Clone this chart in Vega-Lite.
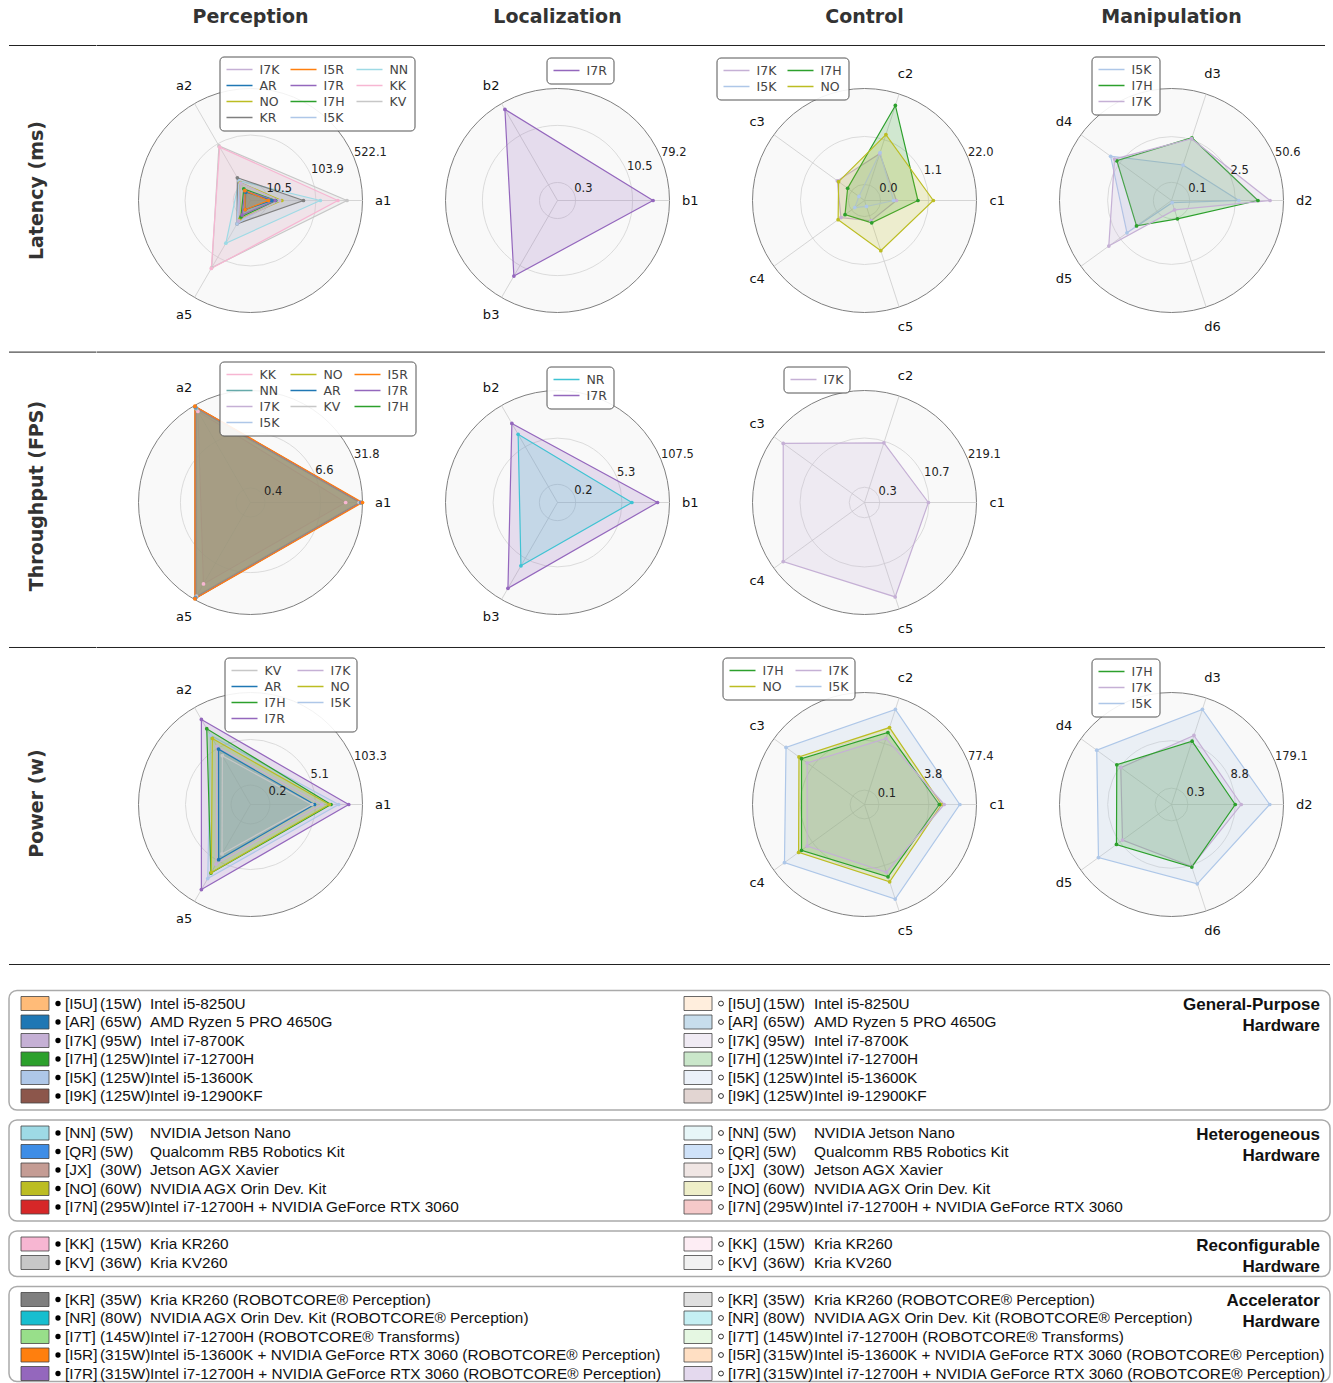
{
"$schema":"https://vega.github.io/schema/vega-lite/v6.json",
"background":"white",
"padding":{"left":8,"top":7.5,"right":0,"bottom":0},
"config":{"view":{"stroke":null},"legend":{"title":null,"orient":"none","labelFont":"DejaVu Sans","labelFontSize":12.5,"labelColor":"#444","symbolType":"stroke","symbolSize":676,"symbolStrokeWidth":1.5,"padding":6,"strokeColor":"#555","fillColor":"rgba(255,255,255,0.9)","cornerRadius":4,"rowPadding":2,"columnPadding":10,"clipHeight":14,"labelOffset":6}},
"datasets":{
"panels":[{"p":"lat-per","c":14,"vmax":522.1},{"p":"lat-loc","c":0.18,"vmax":79.2},{"p":"lat-con","c":0.021,"vmax":22.0},{"p":"lat-man","c":0.048,"vmax":50.6},{"p":"thr-per","c":0.58,"vmax":31.8},{"p":"thr-loc","c":0.094,"vmax":107.5},{"p":"thr-con","c":0.185,"vmax":219.1},{"p":"pow-per","c":0.082,"vmax":103.3},{"p":"pow-con","c":0.068,"vmax":77.4},{"p":"pow-man","c":0.17,"vmax":179.1}],
"axes":[{"a":"a1","g":"a","k":0,"n":3},{"a":"a2","g":"a","k":1,"n":3},{"a":"a5","g":"a","k":2,"n":3},{"a":"b1","g":"b","k":0,"n":3},{"a":"b2","g":"b","k":1,"n":3},{"a":"b3","g":"b","k":2,"n":3},{"a":"c1","g":"c","k":0,"n":5},{"a":"c2","g":"c","k":1,"n":5},{"a":"c3","g":"c","k":2,"n":5},{"a":"c4","g":"c","k":3,"n":5},{"a":"c5","g":"c","k":4,"n":5},{"a":"d2","g":"d","k":0,"n":5},{"a":"d3","g":"d","k":1,"n":5},{"a":"d4","g":"d","k":2,"n":5},{"a":"d5","g":"d","k":3,"n":5},{"a":"d6","g":"d","k":4,"n":5}],
"rings":[{"p":"lat-per","v":10.5,"label":"10.5"},{"p":"lat-per","v":103.9,"label":"103.9"},{"p":"lat-per","v":522.1,"label":"522.1"},
{"p":"lat-loc","v":0.3,"label":"0.3"},{"p":"lat-loc","v":10.5,"label":"10.5"},{"p":"lat-loc","v":79.2,"label":"79.2"},
{"p":"lat-con","v":0.036,"label":"0.0"},{"p":"lat-con","v":1.1,"label":"1.1"},{"p":"lat-con","v":22.0,"label":"22.0"},
{"p":"lat-man","v":0.1,"label":"0.1"},{"p":"lat-man","v":2.5,"label":"2.5"},{"p":"lat-man","v":50.6,"label":"50.6"},
{"p":"thr-per","v":0.4,"label":"0.4"},{"p":"thr-per","v":6.6,"label":"6.6"},{"p":"thr-per","v":31.8,"label":"31.8"},
{"p":"thr-loc","v":0.2,"label":"0.2"},{"p":"thr-loc","v":5.3,"label":"5.3"},{"p":"thr-loc","v":107.5,"label":"107.5"},
{"p":"thr-con","v":0.3,"label":"0.3"},{"p":"thr-con","v":10.7,"label":"10.7"},{"p":"thr-con","v":219.1,"label":"219.1"},
{"p":"pow-per","v":0.2,"label":"0.2"},{"p":"pow-per","v":5.1,"label":"5.1"},{"p":"pow-per","v":103.3,"label":"103.3"},
{"p":"pow-con","v":0.1,"label":"0.1"},{"p":"pow-con","v":3.8,"label":"3.8"},{"p":"pow-con","v":77.4,"label":"77.4"},
{"p":"pow-man","v":0.3,"label":"0.3"},{"p":"pow-man","v":8.8,"label":"8.8"},{"p":"pow-man","v":179.1,"label":"179.1"}],
"pts":[
{"p":"lat-per","s":"KV","a":"a1","v":310},{"p":"lat-per","s":"KV","a":"a2","v":95},{"p":"lat-per","s":"KV","a":"a5","v":160},
{"p":"lat-per","s":"KK","a":"a1","v":227},{"p":"lat-per","s":"KK","a":"a2","v":90},{"p":"lat-per","s":"KK","a":"a5","v":166},
{"p":"lat-per","s":"NN","a":"a1","v":122},{"p":"lat-per","s":"NN","a":"a2","v":15.5},{"p":"lat-per","s":"NN","a":"a5","v":55.6},
{"p":"lat-per","s":"KR","a":"a1","v":64.5},{"p":"lat-per","s":"KR","a":"a2","v":18.9},{"p":"lat-per","s":"KR","a":"a5","v":19.6},
{"p":"lat-per","s":"I5K","a":"a1","v":18.4},{"p":"lat-per","s":"I5K","a":"a2","v":15.0},{"p":"lat-per","s":"I5K","a":"a5","v":19.6},
{"p":"lat-per","s":"NO","a":"a1","v":24.8},{"p":"lat-per","s":"NO","a":"a2","v":13.5},{"p":"lat-per","s":"NO","a":"a5","v":14.0},
{"p":"lat-per","s":"I7K","a":"a1","v":22.1},{"p":"lat-per","s":"I7K","a":"a2","v":13.0},{"p":"lat-per","s":"I7K","a":"a5","v":16.1},
{"p":"lat-per","s":"I7H","a":"a1","v":17.8},{"p":"lat-per","s":"I7H","a":"a2","v":7.7},{"p":"lat-per","s":"I7H","a":"a5","v":12.0},
{"p":"lat-per","s":"I7R","a":"a1","v":17.2},{"p":"lat-per","s":"I7R","a":"a2","v":6.2},{"p":"lat-per","s":"I7R","a":"a5","v":10.2},
{"p":"lat-per","s":"AR","a":"a1","v":14.0},{"p":"lat-per","s":"AR","a":"a2","v":5.1},{"p":"lat-per","s":"AR","a":"a5","v":5.7},
{"p":"lat-per","s":"I5R","a":"a1","v":11.1},{"p":"lat-per","s":"I5R","a":"a2","v":6.2},{"p":"lat-per","s":"I5R","a":"a5","v":5.8},
{"p":"lat-loc","s":"I7R","a":"b1","v":32.3},{"p":"lat-loc","s":"I7R","a":"b2","v":54.6},{"p":"lat-loc","s":"I7R","a":"b3","v":20.5},
{"p":"lat-con","s":"I7K","a":"c1","v":0.131},{"p":"lat-con","s":"I7K","a":"c2","v":0.427},{"p":"lat-con","s":"I7K","a":"c3","v":0.148},{"p":"lat-con","s":"I7K","a":"c4","v":0.107},{"p":"lat-con","s":"I7K","a":"c5","v":0.0577},
{"p":"lat-con","s":"I7H","a":"c1","v":0.559},{"p":"lat-con","s":"I7H","a":"c2","v":10.37},{"p":"lat-con","s":"I7H","a":"c3","v":0.0556},{"p":"lat-con","s":"I7H","a":"c4","v":0.0727},{"p":"lat-con","s":"I7H","a":"c5","v":0.0689},
{"p":"lat-con","s":"I5K","a":"c1","v":0.107},{"p":"lat-con","s":"I5K","a":"c2","v":0.459},{"p":"lat-con","s":"I5K","a":"c3","v":0.0113},{"p":"lat-con","s":"I5K","a":"c4","v":0.0232},{"p":"lat-con","s":"I5K","a":"c5","v":0.0100},
{"p":"lat-con","s":"NO","a":"c1","v":1.49},{"p":"lat-con","s":"NO","a":"c2","v":1.535},{"p":"lat-con","s":"NO","a":"c3","v":0.1325},{"p":"lat-con","s":"NO","a":"c4","v":0.138},{"p":"lat-con","s":"NO","a":"c5","v":0.535},
{"p":"lat-man","s":"I5K","a":"d2","v":3.12},{"p":"lat-man","s":"I5K","a":"d3","v":0.44},{"p":"lat-man","s":"I5K","a":"d4","v":5.11},{"p":"lat-man","s":"I5K","a":"d5","v":1.42},{"p":"lat-man","s":"I5K","a":"d6","v":0.0072},
{"p":"lat-man","s":"I7H","a":"d2","v":10.3},{"p":"lat-man","s":"I7H","a":"d3","v":2.85},{"p":"lat-man","s":"I7H","a":"d4","v":3.16},{"p":"lat-man","s":"I7H","a":"d5","v":0.657},{"p":"lat-man","s":"I7H","a":"d6","v":0.111},
{"p":"lat-man","s":"I7K","a":"d2","v":21.9},{"p":"lat-man","s":"I7K","a":"d3","v":2.67},{"p":"lat-man","s":"I7K","a":"d4","v":3.78},{"p":"lat-man","s":"I7K","a":"d5","v":5.89},{"p":"lat-man","s":"I7K","a":"d6","v":0.0406},
{"p":"thr-per","s":"KK","a":"a1","v":17.1},{"p":"thr-per","s":"KK","a":"a2","v":24.8},{"p":"thr-per","s":"KK","a":"a5","v":16.4},
{"p":"thr-per","s":"KV","a":"a1","v":28.0},{"p":"thr-per","s":"KV","a":"a2","v":27.5},{"p":"thr-per","s":"KV","a":"a5","v":27.5},
{"p":"thr-per","s":"I7K","a":"a1","v":29.0},{"p":"thr-per","s":"I7K","a":"a2","v":28.5},{"p":"thr-per","s":"I7K","a":"a5","v":28.5},
{"p":"thr-per","s":"I5K","a":"a1","v":29.5},{"p":"thr-per","s":"I5K","a":"a2","v":29.0},{"p":"thr-per","s":"I5K","a":"a5","v":29.0},
{"p":"thr-per","s":"AR","a":"a1","v":30.0},{"p":"thr-per","s":"AR","a":"a2","v":29.5},{"p":"thr-per","s":"AR","a":"a5","v":29.5},
{"p":"thr-per","s":"NO","a":"a1","v":30.2},{"p":"thr-per","s":"NO","a":"a2","v":29.8},{"p":"thr-per","s":"NO","a":"a5","v":29.8},
{"p":"thr-per","s":"I7H","a":"a1","v":30.3},{"p":"thr-per","s":"I7H","a":"a2","v":30.0},{"p":"thr-per","s":"I7H","a":"a5","v":30.0},
{"p":"thr-per","s":"NN","a":"a1","v":29.9},{"p":"thr-per","s":"NN","a":"a2","v":28.7},{"p":"thr-per","s":"NN","a":"a5","v":29.3},
{"p":"thr-per","s":"I7R","a":"a1","v":30.5},{"p":"thr-per","s":"I7R","a":"a2","v":30.3},{"p":"thr-per","s":"I7R","a":"a5","v":30.3},
{"p":"thr-per","s":"I5R","a":"a1","v":31.8},{"p":"thr-per","s":"I5R","a":"a2","v":30.9},{"p":"thr-per","s":"I5R","a":"a5","v":30.9},
{"p":"thr-loc","s":"I7R","a":"b1","v":50.5},{"p":"thr-loc","s":"I7R","a":"b2","v":29.1},{"p":"thr-loc","s":"I7R","a":"b3","v":47.8},
{"p":"thr-loc","s":"NR","a":"b1","v":10.0},{"p":"thr-loc","s":"NR","a":"b2","v":13.2},{"p":"thr-loc","s":"NR","a":"b3","v":9.25},
{"p":"thr-con","s":"I7K","a":"c1","v":10.3},{"p":"thr-con","s":"I7K","a":"c2","v":9.57},{"p":"thr-con","s":"I7K","a":"c3","v":105.6},{"p":"thr-con","s":"I7K","a":"c4","v":105.6},{"p":"thr-con","s":"I7K","a":"c5","v":97.7},
{"p":"pow-per","s":"I7R","a":"a1","v":42.9},{"p":"pow-per","s":"I7R","a":"a2","v":42.9},{"p":"pow-per","s":"I7R","a":"a5","v":42.9},
{"p":"pow-per","s":"I5K","a":"a1","v":22.5},{"p":"pow-per","s":"I5K","a":"a2","v":13.4},{"p":"pow-per","s":"I5K","a":"a5","v":19.0},
{"p":"pow-per","s":"I7H","a":"a1","v":13.8},{"p":"pow-per","s":"I7H","a":"a2","v":21.6},{"p":"pow-per","s":"I7H","a":"a5","v":12.7},
{"p":"pow-per","s":"NO","a":"a1","v":12.4},{"p":"pow-per","s":"NO","a":"a2","v":10.5},{"p":"pow-per","s":"NO","a":"a5","v":12.1},
{"p":"pow-per","s":"I7K","a":"a1","v":7.72},{"p":"pow-per","s":"I7K","a":"a2","v":5.86},{"p":"pow-per","s":"I7K","a":"a5","v":6.53},
{"p":"pow-per","s":"AR","a":"a1","v":4.78},{"p":"pow-per","s":"AR","a":"a2","v":4.75},{"p":"pow-per","s":"AR","a":"a5","v":4.68},
{"p":"pow-per","s":"KV","a":"a1","v":4.02},{"p":"pow-per","s":"KV","a":"a2","v":2.89},{"p":"pow-per","s":"KV","a":"a5","v":3.03},
{"p":"pow-con","s":"I5K","a":"c1","v":27.1},{"p":"pow-con","s":"I5K","a":"c2","v":36.4},{"p":"pow-con","s":"I5K","a":"c3","v":30.1},{"p":"pow-con","s":"I5K","a":"c4","v":34.0},{"p":"pow-con","s":"I5K","a":"c5","v":35.2},
{"p":"pow-con","s":"NO","a":"c1","v":8.55},{"p":"pow-con","s":"NO","a":"c2","v":10.9},{"p":"pow-con","s":"NO","a":"c3","v":10.97},{"p":"pow-con","s":"NO","a":"c4","v":11.3},{"p":"pow-con","s":"NO","a":"c5","v":11.2},
{"p":"pow-con","s":"I7H","a":"c1","v":7.42},{"p":"pow-con","s":"I7H","a":"c2","v":7.85},{"p":"pow-con","s":"I7H","a":"c3","v":9.0},{"p":"pow-con","s":"I7H","a":"c4","v":9.0},{"p":"pow-con","s":"I7H","a":"c5","v":8.03},
{"p":"pow-con","s":"I7K","a":"c1","v":10.1},{"p":"pow-con","s":"I7K","a":"c2","v":5.31},{"p":"pow-con","s":"I7K","a":"c3","v":5.79},{"p":"pow-con","s":"I7K","a":"c4","v":5.79},{"p":"pow-con","s":"I7K","a":"c5","v":5.91},
{"p":"pow-man","s":"I5K","a":"d2","v":76.0},{"p":"pow-man","s":"I5K","a":"d3","v":85.0},{"p":"pow-man","s":"I5K","a":"d4","v":52.9},{"p":"pow-man","s":"I5K","a":"d5","v":46.3},{"p":"pow-man","s":"I5K","a":"d6","v":30.2},
{"p":"pow-man","s":"I7K","a":"d2","v":12.8},{"p":"pow-man","s":"I7K","a":"d3","v":15.3},{"p":"pow-man","s":"I7K","a":"d4","v":8.21},{"p":"pow-man","s":"I7K","a":"d5","v":7.17},{"p":"pow-man","s":"I7K","a":"d6","v":9.6},
{"p":"pow-man","s":"I7H","a":"d2","v":8.76},{"p":"pow-man","s":"I7H","a":"d3","v":10.5},{"p":"pow-man","s":"I7H","a":"d4","v":11.2},{"p":"pow-man","s":"I7H","a":"d5","v":11.5},{"p":"pow-man","s":"I7H","a":"d6","v":10.0}],
"hw":[{"key":"I5U","code":"[I5U]","watt":"(15W)","name":"Intel i5-8250U"},{"key":"AR","code":"[AR]","watt":"(65W)","name":"AMD Ryzen 5 PRO 4650G"},{"key":"I7K","code":"[I7K]","watt":"(95W)","name":"Intel i7-8700K"},{"key":"I7H","code":"[I7H]","watt":"(125W)","name":"Intel i7-12700H"},{"key":"I5K","code":"[I5K]","watt":"(125W)","name":"Intel i5-13600K"},{"key":"I9K","code":"[I9K]","watt":"(125W)","name":"Intel i9-12900KF"},{"key":"NN","code":"[NN]","watt":"(5W)","name":"NVIDIA Jetson Nano"},{"key":"QR","code":"[QR]","watt":"(5W)","name":"Qualcomm RB5 Robotics Kit"},{"key":"JX","code":"[JX]","watt":"(30W)","name":"Jetson AGX Xavier"},{"key":"NO","code":"[NO]","watt":"(60W)","name":"NVIDIA AGX Orin Dev. Kit"},{"key":"I7N","code":"[I7N]","watt":"(295W)","name":"Intel i7-12700H + NVIDIA GeForce RTX 3060"},{"key":"KK","code":"[KK]","watt":"(15W)","name":"Kria KR260"},{"key":"KV","code":"[KV]","watt":"(36W)","name":"Kria KV260"},{"key":"KR","code":"[KR]","watt":"(35W)","name":"Kria KR260 (ROBOTCORE® Perception)"},{"key":"NR","code":"[NR]","watt":"(80W)","name":"NVIDIA AGX Orin Dev. Kit (ROBOTCORE® Perception)"},{"key":"I7T","code":"[I7T]","watt":"(145W)","name":"Intel i7-12700H (ROBOTCORE® Transforms)"},{"key":"I5R","code":"[I5R]","watt":"(315W)","name":"Intel i5-13600K + NVIDIA GeForce RTX 3060 (ROBOTCORE® Perception)"},{"key":"I7R","code":"[I7R]","watt":"(315W)","name":"Intel i7-12700H + NVIDIA GeForce RTX 3060 (ROBOTCORE® Perception)"}],
"boxes":[{"g":1,"k1":"I5U","k2":"I9K"},{"g":2,"k1":"NN","k2":"I7N"},{"g":3,"k1":"KK","k2":"KV"},{"g":4,"k1":"KR","k2":"I7R"}],
"groups":[{"k":"I5U","t":["General-Purpose","Hardware"]},{"k":"NN","t":["Heterogeneous","Hardware"]},{"k":"KK","t":["Reconfigurable","Hardware"]},{"k":"KR","t":["Accelerator","Hardware"]}]
},
"spacing":0,
"resolve":{"scale":{"fill":"independent","stroke":"independent"},"legend":{"fill":"independent","stroke":"independent"}},
"vconcat":[
{"spacing":0,"bounds":"flush","resolve":{"scale":{"fill":"independent","stroke":"independent"},"legend":{"fill":"independent","stroke":"independent"}},"hconcat":[
 {"width":87.5,"height":302,"data":{"values":[{}]},"layer":[
  {"mark":{"type":"text","angle":270,"font":"DejaVu Sans","fontSize":19,"fontWeight":"bold","color":"#333"},"encoding":{"x":{"datum":0.32,"type":"quantitative","scale":{"domain":[0,1],"nice":false,"zero":false},"axis":null},"y":{"datum":0.533,"type":"quantitative","scale":{"domain":[0,1],"nice":false,"zero":false},"axis":null},"text":{"value":"Latency (ms)"}}},
  {"mark":{"type":"rule","stroke":"#222","strokeWidth":1},"encoding":{"y":{"datum":1.0132,"type":"quantitative","scale":{"domain":[0,1],"nice":false,"zero":false},"axis":null}}}
 ]},
 {"width":307,"height":302,"layer":[
  {"data":{"values":[{}]},"mark":{"type":"point","shape":"circle","size":50176,"filled":true,"fill":"#f9f9f9","stroke":"#808080","strokeWidth":1,"opacity":1},"encoding":{"x":{"datum":0,"type":"quantitative","scale":{"domain":[-1.37054,1.37054],"nice":false,"zero":false},"axis":null},"y":{"datum":0,"type":"quantitative","scale":{"domain":[-1.34821,1.34821],"nice":false,"zero":false},"axis":null}}},
  {"data":{"values":[{}]},"mark":{"type":"rule","stroke":"#222","strokeWidth":1},"encoding":{"y":{"datum":1.384,"type":"quantitative","scale":{"domain":[-1.34821,1.34821],"nice":false,"zero":false},"axis":null}}},
  {"data":{"name":"rings"},"transform":[{"filter":"datum.p=='lat-per'"},{"lookup":"p","from":{"data":{"name":"panels"},"key":"p","fields":["c","vmax"]}},{"calculate":"log(1+datum.v/datum.c)/log(1+datum.vmax/datum.c)","as":"r"},{"calculate":"pow(224*datum.r,2)","as":"sz"},{"filter":"datum.r<0.99"}],"mark":{"type":"point","shape":"circle","filled":false,"stroke":"#d3d3d3","strokeWidth":0.8,"opacity":1},"encoding":{"x":{"datum":0,"type":"quantitative","scale":{"domain":[-1.37054,1.37054],"nice":false,"zero":false},"axis":null},"y":{"datum":0,"type":"quantitative","scale":{"domain":[-1.34821,1.34821],"nice":false,"zero":false},"axis":null},"size":{"field":"sz","type":"quantitative","scale":null}}},
  {"data":{"name":"axes"},"transform":[{"filter":"datum.g=='a'"},{"calculate":"2*PI*datum.k/datum.n","as":"th"},{"calculate":"0","as":"ox"},{"calculate":"cos(datum.th)","as":"ex"},{"calculate":"sin(datum.th)","as":"ey"},{"calculate":"1.185*cos(datum.th)","as":"tx"},{"calculate":"1.185*sin(datum.th)","as":"ty"}],"layer":[
   {"mark":{"type":"rule","stroke":"#cccccc","strokeWidth":0.8},"encoding":{"x":{"field":"ox","type":"quantitative","scale":{"domain":[-1.37054,1.37054],"nice":false,"zero":false},"axis":null},"y":{"field":"ox","type":"quantitative","scale":{"domain":[-1.34821,1.34821],"nice":false,"zero":false},"axis":null},"x2":{"field":"ex"},"y2":{"field":"ey"}}},
   {"mark":{"type":"text","font":"DejaVu Sans","fontSize":13,"color":"#111"},"encoding":{"x":{"field":"tx","type":"quantitative","scale":{"domain":[-1.37054,1.37054],"nice":false,"zero":false},"axis":null},"y":{"field":"ty","type":"quantitative","scale":{"domain":[-1.34821,1.34821],"nice":false,"zero":false},"axis":null},"text":{"field":"a"}}}
  ]},
  {"data":{"name":"pts"},"transform":[{"filter":"datum.p=='lat-per'"},{"lookup":"p","from":{"data":{"name":"panels"},"key":"p","fields":["c","vmax"]}},{"lookup":"a","from":{"data":{"name":"axes"},"key":"a","fields":["k","n"]}},{"calculate":"log(1+datum.v/datum.c)/log(1+datum.vmax/datum.c)","as":"r"},{"calculate":"2*PI*datum.k/datum.n","as":"th"},{"calculate":"datum.r*cos(datum.th)","as":"x"},{"calculate":"datum.r*sin(datum.th)","as":"y"}],"encoding":{"x":{"field":"x","type":"quantitative","scale":{"domain":[-1.37054,1.37054],"nice":false,"zero":false},"axis":null},"y":{"field":"y","type":"quantitative","scale":{"domain":[-1.34821,1.34821],"nice":false,"zero":false},"axis":null}},"layer":[
   {"mark":{"type":"line","interpolate":"linear-closed","strokeWidth":1.2,"fillOpacity":0.2},"encoding":{"order":{"field":"k","type":"quantitative"},"stroke":{"field":"s","type":"nominal","scale":{"domain":["I7K","I5R","NN","AR","I7R","KK","NO","I7H","KV","KR","I5K"],"range":["#c5b0d5","#ff7f0e","#9edae5","#1f77b4","#9467bd","#f7b6d2","#bcbd22","#2ca02c","#c7c7c7","#7f7f7f","#aec7e8"]},"legend":{"legendX":122.5,"legendY":7,"columns":3,"direction":"horizontal","symbolType":"stroke"}},"fill":{"field":"s","type":"nominal","scale":{"domain":["I7K","I5R","NN","AR","I7R","KK","NO","I7H","KV","KR","I5K"],"range":["#c5b0d5","#ff7f0e","#9edae5","#1f77b4","#9467bd","#f7b6d2","#bcbd22","#2ca02c","#c7c7c7","#7f7f7f","#aec7e8"]},"legend":{"legendX":122.5,"legendY":7,"columns":3,"direction":"horizontal","symbolType":"stroke"}}}},
   {"mark":{"type":"point","shape":"circle","filled":true,"size":14,"opacity":1},"encoding":{"fill":{"field":"s","type":"nominal","scale":{"domain":["I7K","I5R","NN","AR","I7R","KK","NO","I7H","KV","KR","I5K"],"range":["#c5b0d5","#ff7f0e","#9edae5","#1f77b4","#9467bd","#f7b6d2","#bcbd22","#2ca02c","#c7c7c7","#7f7f7f","#aec7e8"]},"legend":{"legendX":122.5,"legendY":7,"columns":3,"direction":"horizontal","symbolType":"stroke"}}}}
  ]},
  {"data":{"name":"rings"},"transform":[{"filter":"datum.p=='lat-per'"},{"lookup":"p","from":{"data":{"name":"panels"},"key":"p","fields":["c","vmax"]}},{"calculate":"log(1+datum.v/datum.c)/log(1+datum.vmax/datum.c)","as":"r"},{"calculate":"datum.r*cos(PI/8)","as":"lx"},{"calculate":"datum.r*sin(PI/8)","as":"ly"}],"mark":{"type":"text","align":"left","baseline":"bottom","font":"DejaVu Sans","fontSize":11.5,"color":"#222"},"encoding":{"x":{"field":"lx","type":"quantitative","scale":{"domain":[-1.37054,1.37054],"nice":false,"zero":false},"axis":null},"y":{"field":"ly","type":"quantitative","scale":{"domain":[-1.34821,1.34821],"nice":false,"zero":false},"axis":null},"text":{"field":"label"}}},
  {"data":{"values":[{}]},"mark":{"type":"text","font":"DejaVu Sans","fontSize":19,"fontWeight":"bold","color":"#333"},"encoding":{"x":{"datum":0,"type":"quantitative","scale":{"domain":[-1.37054,1.37054],"nice":false,"zero":false},"axis":null},"y":{"datum":1.634,"type":"quantitative","scale":{"domain":[-1.34821,1.34821],"nice":false,"zero":false},"axis":null},"text":{"value":"Perception"}}}
 ]},
 {"width":307,"height":302,"layer":[
  {"data":{"values":[{}]},"mark":{"type":"point","shape":"circle","size":50176,"filled":true,"fill":"#f9f9f9","stroke":"#808080","strokeWidth":1,"opacity":1},"encoding":{"x":{"datum":0,"type":"quantitative","scale":{"domain":[-1.37054,1.37054],"nice":false,"zero":false},"axis":null},"y":{"datum":0,"type":"quantitative","scale":{"domain":[-1.34821,1.34821],"nice":false,"zero":false},"axis":null}}},
  {"data":{"values":[{}]},"mark":{"type":"rule","stroke":"#222","strokeWidth":1},"encoding":{"y":{"datum":1.384,"type":"quantitative","scale":{"domain":[-1.34821,1.34821],"nice":false,"zero":false},"axis":null}}},
  {"data":{"name":"rings"},"transform":[{"filter":"datum.p=='lat-loc'"},{"lookup":"p","from":{"data":{"name":"panels"},"key":"p","fields":["c","vmax"]}},{"calculate":"log(1+datum.v/datum.c)/log(1+datum.vmax/datum.c)","as":"r"},{"calculate":"pow(224*datum.r,2)","as":"sz"},{"filter":"datum.r<0.99"}],"mark":{"type":"point","shape":"circle","filled":false,"stroke":"#d3d3d3","strokeWidth":0.8,"opacity":1},"encoding":{"x":{"datum":0,"type":"quantitative","scale":{"domain":[-1.37054,1.37054],"nice":false,"zero":false},"axis":null},"y":{"datum":0,"type":"quantitative","scale":{"domain":[-1.34821,1.34821],"nice":false,"zero":false},"axis":null},"size":{"field":"sz","type":"quantitative","scale":null}}},
  {"data":{"name":"axes"},"transform":[{"filter":"datum.g=='b'"},{"calculate":"2*PI*datum.k/datum.n","as":"th"},{"calculate":"0","as":"ox"},{"calculate":"cos(datum.th)","as":"ex"},{"calculate":"sin(datum.th)","as":"ey"},{"calculate":"1.185*cos(datum.th)","as":"tx"},{"calculate":"1.185*sin(datum.th)","as":"ty"}],"layer":[
   {"mark":{"type":"rule","stroke":"#cccccc","strokeWidth":0.8},"encoding":{"x":{"field":"ox","type":"quantitative","scale":{"domain":[-1.37054,1.37054],"nice":false,"zero":false},"axis":null},"y":{"field":"ox","type":"quantitative","scale":{"domain":[-1.34821,1.34821],"nice":false,"zero":false},"axis":null},"x2":{"field":"ex"},"y2":{"field":"ey"}}},
   {"mark":{"type":"text","font":"DejaVu Sans","fontSize":13,"color":"#111"},"encoding":{"x":{"field":"tx","type":"quantitative","scale":{"domain":[-1.37054,1.37054],"nice":false,"zero":false},"axis":null},"y":{"field":"ty","type":"quantitative","scale":{"domain":[-1.34821,1.34821],"nice":false,"zero":false},"axis":null},"text":{"field":"a"}}}
  ]},
  {"data":{"name":"pts"},"transform":[{"filter":"datum.p=='lat-loc'"},{"lookup":"p","from":{"data":{"name":"panels"},"key":"p","fields":["c","vmax"]}},{"lookup":"a","from":{"data":{"name":"axes"},"key":"a","fields":["k","n"]}},{"calculate":"log(1+datum.v/datum.c)/log(1+datum.vmax/datum.c)","as":"r"},{"calculate":"2*PI*datum.k/datum.n","as":"th"},{"calculate":"datum.r*cos(datum.th)","as":"x"},{"calculate":"datum.r*sin(datum.th)","as":"y"}],"encoding":{"x":{"field":"x","type":"quantitative","scale":{"domain":[-1.37054,1.37054],"nice":false,"zero":false},"axis":null},"y":{"field":"y","type":"quantitative","scale":{"domain":[-1.34821,1.34821],"nice":false,"zero":false},"axis":null}},"layer":[
   {"mark":{"type":"line","interpolate":"linear-closed","strokeWidth":1.2,"fillOpacity":0.2},"encoding":{"order":{"field":"k","type":"quantitative"},"stroke":{"field":"s","type":"nominal","scale":{"domain":["I7R"],"range":["#9467bd"]},"legend":{"legendX":142.5,"legendY":8,"columns":1,"symbolType":"stroke"}},"fill":{"field":"s","type":"nominal","scale":{"domain":["I7R"],"range":["#9467bd"]},"legend":{"legendX":142.5,"legendY":8,"columns":1,"symbolType":"stroke"}}}},
   {"mark":{"type":"point","shape":"circle","filled":true,"size":14,"opacity":1},"encoding":{"fill":{"field":"s","type":"nominal","scale":{"domain":["I7R"],"range":["#9467bd"]},"legend":{"legendX":142.5,"legendY":8,"columns":1,"symbolType":"stroke"}}}}
  ]},
  {"data":{"name":"rings"},"transform":[{"filter":"datum.p=='lat-loc'"},{"lookup":"p","from":{"data":{"name":"panels"},"key":"p","fields":["c","vmax"]}},{"calculate":"log(1+datum.v/datum.c)/log(1+datum.vmax/datum.c)","as":"r"},{"calculate":"datum.r*cos(PI/8)","as":"lx"},{"calculate":"datum.r*sin(PI/8)","as":"ly"}],"mark":{"type":"text","align":"left","baseline":"bottom","font":"DejaVu Sans","fontSize":11.5,"color":"#222"},"encoding":{"x":{"field":"lx","type":"quantitative","scale":{"domain":[-1.37054,1.37054],"nice":false,"zero":false},"axis":null},"y":{"field":"ly","type":"quantitative","scale":{"domain":[-1.34821,1.34821],"nice":false,"zero":false},"axis":null},"text":{"field":"label"}}},
  {"data":{"values":[{}]},"mark":{"type":"text","font":"DejaVu Sans","fontSize":19,"fontWeight":"bold","color":"#333"},"encoding":{"x":{"datum":0,"type":"quantitative","scale":{"domain":[-1.37054,1.37054],"nice":false,"zero":false},"axis":null},"y":{"datum":1.634,"type":"quantitative","scale":{"domain":[-1.34821,1.34821],"nice":false,"zero":false},"axis":null},"text":{"value":"Localization"}}}
 ]},
 {"width":307,"height":302,"layer":[
  {"data":{"values":[{}]},"mark":{"type":"point","shape":"circle","size":50176,"filled":true,"fill":"#f9f9f9","stroke":"#808080","strokeWidth":1,"opacity":1},"encoding":{"x":{"datum":0,"type":"quantitative","scale":{"domain":[-1.37054,1.37054],"nice":false,"zero":false},"axis":null},"y":{"datum":0,"type":"quantitative","scale":{"domain":[-1.34821,1.34821],"nice":false,"zero":false},"axis":null}}},
  {"data":{"values":[{}]},"mark":{"type":"rule","stroke":"#222","strokeWidth":1},"encoding":{"y":{"datum":1.384,"type":"quantitative","scale":{"domain":[-1.34821,1.34821],"nice":false,"zero":false},"axis":null}}},
  {"data":{"name":"rings"},"transform":[{"filter":"datum.p=='lat-con'"},{"lookup":"p","from":{"data":{"name":"panels"},"key":"p","fields":["c","vmax"]}},{"calculate":"log(1+datum.v/datum.c)/log(1+datum.vmax/datum.c)","as":"r"},{"calculate":"pow(224*datum.r,2)","as":"sz"},{"filter":"datum.r<0.99"}],"mark":{"type":"point","shape":"circle","filled":false,"stroke":"#d3d3d3","strokeWidth":0.8,"opacity":1},"encoding":{"x":{"datum":0,"type":"quantitative","scale":{"domain":[-1.37054,1.37054],"nice":false,"zero":false},"axis":null},"y":{"datum":0,"type":"quantitative","scale":{"domain":[-1.34821,1.34821],"nice":false,"zero":false},"axis":null},"size":{"field":"sz","type":"quantitative","scale":null}}},
  {"data":{"name":"axes"},"transform":[{"filter":"datum.g=='c'"},{"calculate":"2*PI*datum.k/datum.n","as":"th"},{"calculate":"0","as":"ox"},{"calculate":"cos(datum.th)","as":"ex"},{"calculate":"sin(datum.th)","as":"ey"},{"calculate":"1.185*cos(datum.th)","as":"tx"},{"calculate":"1.185*sin(datum.th)","as":"ty"}],"layer":[
   {"mark":{"type":"rule","stroke":"#cccccc","strokeWidth":0.8},"encoding":{"x":{"field":"ox","type":"quantitative","scale":{"domain":[-1.37054,1.37054],"nice":false,"zero":false},"axis":null},"y":{"field":"ox","type":"quantitative","scale":{"domain":[-1.34821,1.34821],"nice":false,"zero":false},"axis":null},"x2":{"field":"ex"},"y2":{"field":"ey"}}},
   {"mark":{"type":"text","font":"DejaVu Sans","fontSize":13,"color":"#111"},"encoding":{"x":{"field":"tx","type":"quantitative","scale":{"domain":[-1.37054,1.37054],"nice":false,"zero":false},"axis":null},"y":{"field":"ty","type":"quantitative","scale":{"domain":[-1.34821,1.34821],"nice":false,"zero":false},"axis":null},"text":{"field":"a"}}}
  ]},
  {"data":{"name":"pts"},"transform":[{"filter":"datum.p=='lat-con'"},{"lookup":"p","from":{"data":{"name":"panels"},"key":"p","fields":["c","vmax"]}},{"lookup":"a","from":{"data":{"name":"axes"},"key":"a","fields":["k","n"]}},{"calculate":"log(1+datum.v/datum.c)/log(1+datum.vmax/datum.c)","as":"r"},{"calculate":"2*PI*datum.k/datum.n","as":"th"},{"calculate":"datum.r*cos(datum.th)","as":"x"},{"calculate":"datum.r*sin(datum.th)","as":"y"}],"encoding":{"x":{"field":"x","type":"quantitative","scale":{"domain":[-1.37054,1.37054],"nice":false,"zero":false},"axis":null},"y":{"field":"y","type":"quantitative","scale":{"domain":[-1.34821,1.34821],"nice":false,"zero":false},"axis":null}},"layer":[
   {"mark":{"type":"line","interpolate":"linear-closed","strokeWidth":1.2,"fillOpacity":0.2},"encoding":{"order":{"field":"k","type":"quantitative"},"stroke":{"field":"s","type":"nominal","scale":{"domain":["I7K","I7H","I5K","NO"],"range":["#c5b0d5","#2ca02c","#aec7e8","#bcbd22"]},"legend":{"legendX":5.5,"legendY":8,"columns":2,"direction":"horizontal","symbolType":"stroke"}},"fill":{"field":"s","type":"nominal","scale":{"domain":["I7K","I7H","I5K","NO"],"range":["#c5b0d5","#2ca02c","#aec7e8","#bcbd22"]},"legend":{"legendX":5.5,"legendY":8,"columns":2,"direction":"horizontal","symbolType":"stroke"}}}},
   {"mark":{"type":"point","shape":"circle","filled":true,"size":14,"opacity":1},"encoding":{"fill":{"field":"s","type":"nominal","scale":{"domain":["I7K","I7H","I5K","NO"],"range":["#c5b0d5","#2ca02c","#aec7e8","#bcbd22"]},"legend":{"legendX":5.5,"legendY":8,"columns":2,"direction":"horizontal","symbolType":"stroke"}}}}
  ]},
  {"data":{"name":"rings"},"transform":[{"filter":"datum.p=='lat-con'"},{"lookup":"p","from":{"data":{"name":"panels"},"key":"p","fields":["c","vmax"]}},{"calculate":"log(1+datum.v/datum.c)/log(1+datum.vmax/datum.c)","as":"r"},{"calculate":"datum.r*cos(PI/8)","as":"lx"},{"calculate":"datum.r*sin(PI/8)","as":"ly"}],"mark":{"type":"text","align":"left","baseline":"bottom","font":"DejaVu Sans","fontSize":11.5,"color":"#222"},"encoding":{"x":{"field":"lx","type":"quantitative","scale":{"domain":[-1.37054,1.37054],"nice":false,"zero":false},"axis":null},"y":{"field":"ly","type":"quantitative","scale":{"domain":[-1.34821,1.34821],"nice":false,"zero":false},"axis":null},"text":{"field":"label"}}},
  {"data":{"values":[{}]},"mark":{"type":"text","font":"DejaVu Sans","fontSize":19,"fontWeight":"bold","color":"#333"},"encoding":{"x":{"datum":0,"type":"quantitative","scale":{"domain":[-1.37054,1.37054],"nice":false,"zero":false},"axis":null},"y":{"datum":1.634,"type":"quantitative","scale":{"domain":[-1.34821,1.34821],"nice":false,"zero":false},"axis":null},"text":{"value":"Control"}}}
 ]},
 {"width":307,"height":302,"layer":[
  {"data":{"values":[{}]},"mark":{"type":"point","shape":"circle","size":50176,"filled":true,"fill":"#f9f9f9","stroke":"#808080","strokeWidth":1,"opacity":1},"encoding":{"x":{"datum":0,"type":"quantitative","scale":{"domain":[-1.37054,1.37054],"nice":false,"zero":false},"axis":null},"y":{"datum":0,"type":"quantitative","scale":{"domain":[-1.34821,1.34821],"nice":false,"zero":false},"axis":null}}},
  {"data":{"values":[{}]},"mark":{"type":"rule","stroke":"#222","strokeWidth":1},"encoding":{"y":{"datum":1.384,"type":"quantitative","scale":{"domain":[-1.34821,1.34821],"nice":false,"zero":false},"axis":null}}},
  {"data":{"name":"rings"},"transform":[{"filter":"datum.p=='lat-man'"},{"lookup":"p","from":{"data":{"name":"panels"},"key":"p","fields":["c","vmax"]}},{"calculate":"log(1+datum.v/datum.c)/log(1+datum.vmax/datum.c)","as":"r"},{"calculate":"pow(224*datum.r,2)","as":"sz"},{"filter":"datum.r<0.99"}],"mark":{"type":"point","shape":"circle","filled":false,"stroke":"#d3d3d3","strokeWidth":0.8,"opacity":1},"encoding":{"x":{"datum":0,"type":"quantitative","scale":{"domain":[-1.37054,1.37054],"nice":false,"zero":false},"axis":null},"y":{"datum":0,"type":"quantitative","scale":{"domain":[-1.34821,1.34821],"nice":false,"zero":false},"axis":null},"size":{"field":"sz","type":"quantitative","scale":null}}},
  {"data":{"name":"axes"},"transform":[{"filter":"datum.g=='d'"},{"calculate":"2*PI*datum.k/datum.n","as":"th"},{"calculate":"0","as":"ox"},{"calculate":"cos(datum.th)","as":"ex"},{"calculate":"sin(datum.th)","as":"ey"},{"calculate":"1.185*cos(datum.th)","as":"tx"},{"calculate":"1.185*sin(datum.th)","as":"ty"}],"layer":[
   {"mark":{"type":"rule","stroke":"#cccccc","strokeWidth":0.8},"encoding":{"x":{"field":"ox","type":"quantitative","scale":{"domain":[-1.37054,1.37054],"nice":false,"zero":false},"axis":null},"y":{"field":"ox","type":"quantitative","scale":{"domain":[-1.34821,1.34821],"nice":false,"zero":false},"axis":null},"x2":{"field":"ex"},"y2":{"field":"ey"}}},
   {"mark":{"type":"text","font":"DejaVu Sans","fontSize":13,"color":"#111"},"encoding":{"x":{"field":"tx","type":"quantitative","scale":{"domain":[-1.37054,1.37054],"nice":false,"zero":false},"axis":null},"y":{"field":"ty","type":"quantitative","scale":{"domain":[-1.34821,1.34821],"nice":false,"zero":false},"axis":null},"text":{"field":"a"}}}
  ]},
  {"data":{"name":"pts"},"transform":[{"filter":"datum.p=='lat-man'"},{"lookup":"p","from":{"data":{"name":"panels"},"key":"p","fields":["c","vmax"]}},{"lookup":"a","from":{"data":{"name":"axes"},"key":"a","fields":["k","n"]}},{"calculate":"log(1+datum.v/datum.c)/log(1+datum.vmax/datum.c)","as":"r"},{"calculate":"2*PI*datum.k/datum.n","as":"th"},{"calculate":"datum.r*cos(datum.th)","as":"x"},{"calculate":"datum.r*sin(datum.th)","as":"y"}],"encoding":{"x":{"field":"x","type":"quantitative","scale":{"domain":[-1.37054,1.37054],"nice":false,"zero":false},"axis":null},"y":{"field":"y","type":"quantitative","scale":{"domain":[-1.34821,1.34821],"nice":false,"zero":false},"axis":null}},"layer":[
   {"mark":{"type":"line","interpolate":"linear-closed","strokeWidth":1.2,"fillOpacity":0.2},"encoding":{"order":{"field":"k","type":"quantitative"},"stroke":{"field":"s","type":"nominal","scale":{"domain":["I5K","I7H","I7K"],"range":["#aec7e8","#2ca02c","#c5b0d5"]},"legend":{"legendX":73.5,"legendY":7,"columns":1,"symbolType":"stroke"}},"fill":{"field":"s","type":"nominal","scale":{"domain":["I5K","I7H","I7K"],"range":["#aec7e8","#2ca02c","#c5b0d5"]},"legend":{"legendX":73.5,"legendY":7,"columns":1,"symbolType":"stroke"}}}},
   {"mark":{"type":"point","shape":"circle","filled":true,"size":14,"opacity":1},"encoding":{"fill":{"field":"s","type":"nominal","scale":{"domain":["I5K","I7H","I7K"],"range":["#aec7e8","#2ca02c","#c5b0d5"]},"legend":{"legendX":73.5,"legendY":7,"columns":1,"symbolType":"stroke"}}}}
  ]},
  {"data":{"name":"rings"},"transform":[{"filter":"datum.p=='lat-man'"},{"lookup":"p","from":{"data":{"name":"panels"},"key":"p","fields":["c","vmax"]}},{"calculate":"log(1+datum.v/datum.c)/log(1+datum.vmax/datum.c)","as":"r"},{"calculate":"datum.r*cos(PI/8)","as":"lx"},{"calculate":"datum.r*sin(PI/8)","as":"ly"}],"mark":{"type":"text","align":"left","baseline":"bottom","font":"DejaVu Sans","fontSize":11.5,"color":"#222"},"encoding":{"x":{"field":"lx","type":"quantitative","scale":{"domain":[-1.37054,1.37054],"nice":false,"zero":false},"axis":null},"y":{"field":"ly","type":"quantitative","scale":{"domain":[-1.34821,1.34821],"nice":false,"zero":false},"axis":null},"text":{"field":"label"}}},
  {"data":{"values":[{}]},"mark":{"type":"text","font":"DejaVu Sans","fontSize":19,"fontWeight":"bold","color":"#333"},"encoding":{"x":{"datum":0,"type":"quantitative","scale":{"domain":[-1.37054,1.37054],"nice":false,"zero":false},"axis":null},"y":{"datum":1.634,"type":"quantitative","scale":{"domain":[-1.34821,1.34821],"nice":false,"zero":false},"axis":null},"text":{"value":"Manipulation"}}}
 ]}
]},
{"spacing":0,"bounds":"flush","resolve":{"scale":{"fill":"independent","stroke":"independent"},"legend":{"fill":"independent","stroke":"independent"}},"hconcat":[
 {"width":87.5,"height":302,"data":{"values":[{}]},"layer":[
  {"mark":{"type":"text","angle":270,"font":"DejaVu Sans","fontSize":19,"fontWeight":"bold","color":"#333"},"encoding":{"x":{"datum":0.32,"type":"quantitative","scale":{"domain":[0,1],"nice":false,"zero":false},"axis":null},"y":{"datum":0.5215,"type":"quantitative","scale":{"domain":[0,1],"nice":false,"zero":false},"axis":null},"text":{"value":"Throughput (FPS)"}}},
  {"mark":{"type":"rule","stroke":"#222","strokeWidth":1},"encoding":{"y":{"datum":0.998,"type":"quantitative","scale":{"domain":[0,1],"nice":false,"zero":false},"axis":null}}},
  {"mark":{"type":"rule","stroke":"#222","strokeWidth":1},"encoding":{"y":{"datum":0.0199,"type":"quantitative","scale":{"domain":[0,1],"nice":false,"zero":false},"axis":null}}}
 ]},
 {"width":307,"height":302,"layer":[
  {"data":{"values":[{}]},"mark":{"type":"point","shape":"circle","size":50176,"filled":true,"fill":"#f9f9f9","stroke":"#808080","strokeWidth":1,"opacity":1},"encoding":{"x":{"datum":0,"type":"quantitative","scale":{"domain":[-1.37054,1.37054],"nice":false,"zero":false},"axis":null},"y":{"datum":0,"type":"quantitative","scale":{"domain":[-1.34821,1.34821],"nice":false,"zero":false},"axis":null}}},
  {"data":{"values":[{}]},"mark":{"type":"rule","stroke":"#222","strokeWidth":1},"encoding":{"y":{"datum":1.343,"type":"quantitative","scale":{"domain":[-1.34821,1.34821],"nice":false,"zero":false},"axis":null}}},
  {"data":{"values":[{}]},"mark":{"type":"rule","stroke":"#222","strokeWidth":1},"encoding":{"y":{"datum":-1.2946,"type":"quantitative","scale":{"domain":[-1.34821,1.34821],"nice":false,"zero":false},"axis":null}}},
  {"data":{"name":"rings"},"transform":[{"filter":"datum.p=='thr-per'"},{"lookup":"p","from":{"data":{"name":"panels"},"key":"p","fields":["c","vmax"]}},{"calculate":"log(1+datum.v/datum.c)/log(1+datum.vmax/datum.c)","as":"r"},{"calculate":"pow(224*datum.r,2)","as":"sz"},{"filter":"datum.r<0.99"}],"mark":{"type":"point","shape":"circle","filled":false,"stroke":"#d3d3d3","strokeWidth":0.8,"opacity":1},"encoding":{"x":{"datum":0,"type":"quantitative","scale":{"domain":[-1.37054,1.37054],"nice":false,"zero":false},"axis":null},"y":{"datum":0,"type":"quantitative","scale":{"domain":[-1.34821,1.34821],"nice":false,"zero":false},"axis":null},"size":{"field":"sz","type":"quantitative","scale":null}}},
  {"data":{"name":"axes"},"transform":[{"filter":"datum.g=='a'"},{"calculate":"2*PI*datum.k/datum.n","as":"th"},{"calculate":"0","as":"ox"},{"calculate":"cos(datum.th)","as":"ex"},{"calculate":"sin(datum.th)","as":"ey"},{"calculate":"1.185*cos(datum.th)","as":"tx"},{"calculate":"1.185*sin(datum.th)","as":"ty"}],"layer":[
   {"mark":{"type":"rule","stroke":"#cccccc","strokeWidth":0.8},"encoding":{"x":{"field":"ox","type":"quantitative","scale":{"domain":[-1.37054,1.37054],"nice":false,"zero":false},"axis":null},"y":{"field":"ox","type":"quantitative","scale":{"domain":[-1.34821,1.34821],"nice":false,"zero":false},"axis":null},"x2":{"field":"ex"},"y2":{"field":"ey"}}},
   {"mark":{"type":"text","font":"DejaVu Sans","fontSize":13,"color":"#111"},"encoding":{"x":{"field":"tx","type":"quantitative","scale":{"domain":[-1.37054,1.37054],"nice":false,"zero":false},"axis":null},"y":{"field":"ty","type":"quantitative","scale":{"domain":[-1.34821,1.34821],"nice":false,"zero":false},"axis":null},"text":{"field":"a"}}}
  ]},
  {"data":{"name":"pts"},"transform":[{"filter":"datum.p=='thr-per'"},{"lookup":"p","from":{"data":{"name":"panels"},"key":"p","fields":["c","vmax"]}},{"lookup":"a","from":{"data":{"name":"axes"},"key":"a","fields":["k","n"]}},{"calculate":"log(1+datum.v/datum.c)/log(1+datum.vmax/datum.c)","as":"r"},{"calculate":"2*PI*datum.k/datum.n","as":"th"},{"calculate":"datum.r*cos(datum.th)","as":"x"},{"calculate":"datum.r*sin(datum.th)","as":"y"}],"encoding":{"x":{"field":"x","type":"quantitative","scale":{"domain":[-1.37054,1.37054],"nice":false,"zero":false},"axis":null},"y":{"field":"y","type":"quantitative","scale":{"domain":[-1.34821,1.34821],"nice":false,"zero":false},"axis":null}},"layer":[
   {"mark":{"type":"line","interpolate":"linear-closed","strokeWidth":1.2,"fillOpacity":0.2},"encoding":{"order":{"field":"k","type":"quantitative"},"stroke":{"field":"s","type":"nominal","scale":{"domain":["KK","NO","I5R","NN","AR","I7R","I7K","KV","I7H","I5K"],"range":["#f7b6d2","#bcbd22","#ff7f0e","#66aaaa","#1f77b4","#9467bd","#c5b0d5","#c7c7c7","#2ca02c","#aec7e8"]},"legend":{"legendX":122.5,"legendY":10,"columns":3,"direction":"horizontal","symbolType":"stroke"}},"fill":{"field":"s","type":"nominal","scale":{"domain":["KK","NO","I5R","NN","AR","I7R","I7K","KV","I7H","I5K"],"range":["#f7b6d2","#bcbd22","#ff7f0e","#66aaaa","#1f77b4","#9467bd","#c5b0d5","#c7c7c7","#2ca02c","#aec7e8"]},"legend":{"legendX":122.5,"legendY":10,"columns":3,"direction":"horizontal","symbolType":"stroke"}}}},
   {"mark":{"type":"point","shape":"circle","filled":true,"size":14,"opacity":1},"encoding":{"fill":{"field":"s","type":"nominal","scale":{"domain":["KK","NO","I5R","NN","AR","I7R","I7K","KV","I7H","I5K"],"range":["#f7b6d2","#bcbd22","#ff7f0e","#66aaaa","#1f77b4","#9467bd","#c5b0d5","#c7c7c7","#2ca02c","#aec7e8"]},"legend":{"legendX":122.5,"legendY":10,"columns":3,"direction":"horizontal","symbolType":"stroke"}}}}
  ]},
  {"data":{"name":"rings"},"transform":[{"filter":"datum.p=='thr-per'"},{"lookup":"p","from":{"data":{"name":"panels"},"key":"p","fields":["c","vmax"]}},{"calculate":"log(1+datum.v/datum.c)/log(1+datum.vmax/datum.c)","as":"r"},{"calculate":"datum.r*cos(PI/8)","as":"lx"},{"calculate":"datum.r*sin(PI/8)","as":"ly"}],"mark":{"type":"text","align":"left","baseline":"bottom","font":"DejaVu Sans","fontSize":11.5,"color":"#222"},"encoding":{"x":{"field":"lx","type":"quantitative","scale":{"domain":[-1.37054,1.37054],"nice":false,"zero":false},"axis":null},"y":{"field":"ly","type":"quantitative","scale":{"domain":[-1.34821,1.34821],"nice":false,"zero":false},"axis":null},"text":{"field":"label"}}}
 ]},
 {"width":307,"height":302,"layer":[
  {"data":{"values":[{}]},"mark":{"type":"point","shape":"circle","size":50176,"filled":true,"fill":"#f9f9f9","stroke":"#808080","strokeWidth":1,"opacity":1},"encoding":{"x":{"datum":0,"type":"quantitative","scale":{"domain":[-1.37054,1.37054],"nice":false,"zero":false},"axis":null},"y":{"datum":0,"type":"quantitative","scale":{"domain":[-1.34821,1.34821],"nice":false,"zero":false},"axis":null}}},
  {"data":{"values":[{}]},"mark":{"type":"rule","stroke":"#222","strokeWidth":1},"encoding":{"y":{"datum":1.343,"type":"quantitative","scale":{"domain":[-1.34821,1.34821],"nice":false,"zero":false},"axis":null}}},
  {"data":{"values":[{}]},"mark":{"type":"rule","stroke":"#222","strokeWidth":1},"encoding":{"y":{"datum":-1.2946,"type":"quantitative","scale":{"domain":[-1.34821,1.34821],"nice":false,"zero":false},"axis":null}}},
  {"data":{"name":"rings"},"transform":[{"filter":"datum.p=='thr-loc'"},{"lookup":"p","from":{"data":{"name":"panels"},"key":"p","fields":["c","vmax"]}},{"calculate":"log(1+datum.v/datum.c)/log(1+datum.vmax/datum.c)","as":"r"},{"calculate":"pow(224*datum.r,2)","as":"sz"},{"filter":"datum.r<0.99"}],"mark":{"type":"point","shape":"circle","filled":false,"stroke":"#d3d3d3","strokeWidth":0.8,"opacity":1},"encoding":{"x":{"datum":0,"type":"quantitative","scale":{"domain":[-1.37054,1.37054],"nice":false,"zero":false},"axis":null},"y":{"datum":0,"type":"quantitative","scale":{"domain":[-1.34821,1.34821],"nice":false,"zero":false},"axis":null},"size":{"field":"sz","type":"quantitative","scale":null}}},
  {"data":{"name":"axes"},"transform":[{"filter":"datum.g=='b'"},{"calculate":"2*PI*datum.k/datum.n","as":"th"},{"calculate":"0","as":"ox"},{"calculate":"cos(datum.th)","as":"ex"},{"calculate":"sin(datum.th)","as":"ey"},{"calculate":"1.185*cos(datum.th)","as":"tx"},{"calculate":"1.185*sin(datum.th)","as":"ty"}],"layer":[
   {"mark":{"type":"rule","stroke":"#cccccc","strokeWidth":0.8},"encoding":{"x":{"field":"ox","type":"quantitative","scale":{"domain":[-1.37054,1.37054],"nice":false,"zero":false},"axis":null},"y":{"field":"ox","type":"quantitative","scale":{"domain":[-1.34821,1.34821],"nice":false,"zero":false},"axis":null},"x2":{"field":"ex"},"y2":{"field":"ey"}}},
   {"mark":{"type":"text","font":"DejaVu Sans","fontSize":13,"color":"#111"},"encoding":{"x":{"field":"tx","type":"quantitative","scale":{"domain":[-1.37054,1.37054],"nice":false,"zero":false},"axis":null},"y":{"field":"ty","type":"quantitative","scale":{"domain":[-1.34821,1.34821],"nice":false,"zero":false},"axis":null},"text":{"field":"a"}}}
  ]},
  {"data":{"name":"pts"},"transform":[{"filter":"datum.p=='thr-loc'"},{"lookup":"p","from":{"data":{"name":"panels"},"key":"p","fields":["c","vmax"]}},{"lookup":"a","from":{"data":{"name":"axes"},"key":"a","fields":["k","n"]}},{"calculate":"log(1+datum.v/datum.c)/log(1+datum.vmax/datum.c)","as":"r"},{"calculate":"2*PI*datum.k/datum.n","as":"th"},{"calculate":"datum.r*cos(datum.th)","as":"x"},{"calculate":"datum.r*sin(datum.th)","as":"y"}],"encoding":{"x":{"field":"x","type":"quantitative","scale":{"domain":[-1.37054,1.37054],"nice":false,"zero":false},"axis":null},"y":{"field":"y","type":"quantitative","scale":{"domain":[-1.34821,1.34821],"nice":false,"zero":false},"axis":null}},"layer":[
   {"mark":{"type":"line","interpolate":"linear-closed","strokeWidth":1.2,"fillOpacity":0.2},"encoding":{"order":{"field":"k","type":"quantitative"},"stroke":{"field":"s","type":"nominal","scale":{"domain":["NR","I7R"],"range":["#3fc3d3","#9467bd"]},"legend":{"legendX":142.5,"legendY":15,"columns":1,"symbolType":"stroke"}},"fill":{"field":"s","type":"nominal","scale":{"domain":["NR","I7R"],"range":["#3fc3d3","#9467bd"]},"legend":{"legendX":142.5,"legendY":15,"columns":1,"symbolType":"stroke"}}}},
   {"mark":{"type":"point","shape":"circle","filled":true,"size":14,"opacity":1},"encoding":{"fill":{"field":"s","type":"nominal","scale":{"domain":["NR","I7R"],"range":["#3fc3d3","#9467bd"]},"legend":{"legendX":142.5,"legendY":15,"columns":1,"symbolType":"stroke"}}}}
  ]},
  {"data":{"name":"rings"},"transform":[{"filter":"datum.p=='thr-loc'"},{"lookup":"p","from":{"data":{"name":"panels"},"key":"p","fields":["c","vmax"]}},{"calculate":"log(1+datum.v/datum.c)/log(1+datum.vmax/datum.c)","as":"r"},{"calculate":"datum.r*cos(PI/8)","as":"lx"},{"calculate":"datum.r*sin(PI/8)","as":"ly"}],"mark":{"type":"text","align":"left","baseline":"bottom","font":"DejaVu Sans","fontSize":11.5,"color":"#222"},"encoding":{"x":{"field":"lx","type":"quantitative","scale":{"domain":[-1.37054,1.37054],"nice":false,"zero":false},"axis":null},"y":{"field":"ly","type":"quantitative","scale":{"domain":[-1.34821,1.34821],"nice":false,"zero":false},"axis":null},"text":{"field":"label"}}}
 ]},
 {"width":307,"height":302,"layer":[
  {"data":{"values":[{}]},"mark":{"type":"point","shape":"circle","size":50176,"filled":true,"fill":"#f9f9f9","stroke":"#808080","strokeWidth":1,"opacity":1},"encoding":{"x":{"datum":0,"type":"quantitative","scale":{"domain":[-1.37054,1.37054],"nice":false,"zero":false},"axis":null},"y":{"datum":0,"type":"quantitative","scale":{"domain":[-1.34821,1.34821],"nice":false,"zero":false},"axis":null}}},
  {"data":{"values":[{}]},"mark":{"type":"rule","stroke":"#222","strokeWidth":1},"encoding":{"y":{"datum":1.343,"type":"quantitative","scale":{"domain":[-1.34821,1.34821],"nice":false,"zero":false},"axis":null}}},
  {"data":{"values":[{}]},"mark":{"type":"rule","stroke":"#222","strokeWidth":1},"encoding":{"y":{"datum":-1.2946,"type":"quantitative","scale":{"domain":[-1.34821,1.34821],"nice":false,"zero":false},"axis":null}}},
  {"data":{"name":"rings"},"transform":[{"filter":"datum.p=='thr-con'"},{"lookup":"p","from":{"data":{"name":"panels"},"key":"p","fields":["c","vmax"]}},{"calculate":"log(1+datum.v/datum.c)/log(1+datum.vmax/datum.c)","as":"r"},{"calculate":"pow(224*datum.r,2)","as":"sz"},{"filter":"datum.r<0.99"}],"mark":{"type":"point","shape":"circle","filled":false,"stroke":"#d3d3d3","strokeWidth":0.8,"opacity":1},"encoding":{"x":{"datum":0,"type":"quantitative","scale":{"domain":[-1.37054,1.37054],"nice":false,"zero":false},"axis":null},"y":{"datum":0,"type":"quantitative","scale":{"domain":[-1.34821,1.34821],"nice":false,"zero":false},"axis":null},"size":{"field":"sz","type":"quantitative","scale":null}}},
  {"data":{"name":"axes"},"transform":[{"filter":"datum.g=='c'"},{"calculate":"2*PI*datum.k/datum.n","as":"th"},{"calculate":"0","as":"ox"},{"calculate":"cos(datum.th)","as":"ex"},{"calculate":"sin(datum.th)","as":"ey"},{"calculate":"1.185*cos(datum.th)","as":"tx"},{"calculate":"1.185*sin(datum.th)","as":"ty"}],"layer":[
   {"mark":{"type":"rule","stroke":"#cccccc","strokeWidth":0.8},"encoding":{"x":{"field":"ox","type":"quantitative","scale":{"domain":[-1.37054,1.37054],"nice":false,"zero":false},"axis":null},"y":{"field":"ox","type":"quantitative","scale":{"domain":[-1.34821,1.34821],"nice":false,"zero":false},"axis":null},"x2":{"field":"ex"},"y2":{"field":"ey"}}},
   {"mark":{"type":"text","font":"DejaVu Sans","fontSize":13,"color":"#111"},"encoding":{"x":{"field":"tx","type":"quantitative","scale":{"domain":[-1.37054,1.37054],"nice":false,"zero":false},"axis":null},"y":{"field":"ty","type":"quantitative","scale":{"domain":[-1.34821,1.34821],"nice":false,"zero":false},"axis":null},"text":{"field":"a"}}}
  ]},
  {"data":{"name":"pts"},"transform":[{"filter":"datum.p=='thr-con'"},{"lookup":"p","from":{"data":{"name":"panels"},"key":"p","fields":["c","vmax"]}},{"lookup":"a","from":{"data":{"name":"axes"},"key":"a","fields":["k","n"]}},{"calculate":"log(1+datum.v/datum.c)/log(1+datum.vmax/datum.c)","as":"r"},{"calculate":"2*PI*datum.k/datum.n","as":"th"},{"calculate":"datum.r*cos(datum.th)","as":"x"},{"calculate":"datum.r*sin(datum.th)","as":"y"}],"encoding":{"x":{"field":"x","type":"quantitative","scale":{"domain":[-1.37054,1.37054],"nice":false,"zero":false},"axis":null},"y":{"field":"y","type":"quantitative","scale":{"domain":[-1.34821,1.34821],"nice":false,"zero":false},"axis":null}},"layer":[
   {"mark":{"type":"line","interpolate":"linear-closed","strokeWidth":1.2,"fillOpacity":0.2},"encoding":{"order":{"field":"k","type":"quantitative"},"stroke":{"field":"s","type":"nominal","scale":{"domain":["I7K"],"range":["#c5b0d5"]},"legend":{"legendX":72.5,"legendY":15,"columns":1,"symbolType":"stroke"}},"fill":{"field":"s","type":"nominal","scale":{"domain":["I7K"],"range":["#c5b0d5"]},"legend":{"legendX":72.5,"legendY":15,"columns":1,"symbolType":"stroke"}}}},
   {"mark":{"type":"point","shape":"circle","filled":true,"size":14,"opacity":1},"encoding":{"fill":{"field":"s","type":"nominal","scale":{"domain":["I7K"],"range":["#c5b0d5"]},"legend":{"legendX":72.5,"legendY":15,"columns":1,"symbolType":"stroke"}}}}
  ]},
  {"data":{"name":"rings"},"transform":[{"filter":"datum.p=='thr-con'"},{"lookup":"p","from":{"data":{"name":"panels"},"key":"p","fields":["c","vmax"]}},{"calculate":"log(1+datum.v/datum.c)/log(1+datum.vmax/datum.c)","as":"r"},{"calculate":"datum.r*cos(PI/8)","as":"lx"},{"calculate":"datum.r*sin(PI/8)","as":"ly"}],"mark":{"type":"text","align":"left","baseline":"bottom","font":"DejaVu Sans","fontSize":11.5,"color":"#222"},"encoding":{"x":{"field":"lx","type":"quantitative","scale":{"domain":[-1.37054,1.37054],"nice":false,"zero":false},"axis":null},"y":{"field":"ly","type":"quantitative","scale":{"domain":[-1.34821,1.34821],"nice":false,"zero":false},"axis":null},"text":{"field":"label"}}}
 ]},
 {"width":307,"height":302,"data":{"values":[{}]},"layer":[
  {"mark":{"type":"rule","stroke":"#222","strokeWidth":1},"encoding":{"y":{"datum":0.998,"type":"quantitative","scale":{"domain":[0,1],"nice":false,"zero":false},"axis":null}}},
  {"mark":{"type":"rule","stroke":"#222","strokeWidth":1},"encoding":{"y":{"datum":0.0199,"type":"quantitative","scale":{"domain":[0,1],"nice":false,"zero":false},"axis":null}}}
 ]}
]},
{"spacing":0,"bounds":"flush","resolve":{"scale":{"fill":"independent","stroke":"independent"},"legend":{"fill":"independent","stroke":"independent"}},"hconcat":[
 {"width":87.5,"height":302,"data":{"values":[{}]},"mark":{"type":"text","angle":270,"font":"DejaVu Sans","fontSize":19,"fontWeight":"bold","color":"#333"},"encoding":{"x":{"datum":0.32,"type":"quantitative","scale":{"domain":[0,1],"nice":false,"zero":false},"axis":null},"y":{"datum":0.503,"type":"quantitative","scale":{"domain":[0,1],"nice":false,"zero":false},"axis":null},"text":{"value":"Power (w)"}}},
 {"width":307,"height":302,"layer":[
  {"data":{"values":[{}]},"mark":{"type":"point","shape":"circle","size":50176,"filled":true,"fill":"#f9f9f9","stroke":"#808080","strokeWidth":1,"opacity":1},"encoding":{"x":{"datum":0,"type":"quantitative","scale":{"domain":[-1.37054,1.37054],"nice":false,"zero":false},"axis":null},"y":{"datum":0,"type":"quantitative","scale":{"domain":[-1.34821,1.34821],"nice":false,"zero":false},"axis":null}}},
  {"data":{"name":"rings"},"transform":[{"filter":"datum.p=='pow-per'"},{"lookup":"p","from":{"data":{"name":"panels"},"key":"p","fields":["c","vmax"]}},{"calculate":"log(1+datum.v/datum.c)/log(1+datum.vmax/datum.c)","as":"r"},{"calculate":"pow(224*datum.r,2)","as":"sz"},{"filter":"datum.r<0.99"}],"mark":{"type":"point","shape":"circle","filled":false,"stroke":"#d3d3d3","strokeWidth":0.8,"opacity":1},"encoding":{"x":{"datum":0,"type":"quantitative","scale":{"domain":[-1.37054,1.37054],"nice":false,"zero":false},"axis":null},"y":{"datum":0,"type":"quantitative","scale":{"domain":[-1.34821,1.34821],"nice":false,"zero":false},"axis":null},"size":{"field":"sz","type":"quantitative","scale":null}}},
  {"data":{"name":"axes"},"transform":[{"filter":"datum.g=='a'"},{"calculate":"2*PI*datum.k/datum.n","as":"th"},{"calculate":"0","as":"ox"},{"calculate":"cos(datum.th)","as":"ex"},{"calculate":"sin(datum.th)","as":"ey"},{"calculate":"1.185*cos(datum.th)","as":"tx"},{"calculate":"1.185*sin(datum.th)","as":"ty"}],"layer":[
   {"mark":{"type":"rule","stroke":"#cccccc","strokeWidth":0.8},"encoding":{"x":{"field":"ox","type":"quantitative","scale":{"domain":[-1.37054,1.37054],"nice":false,"zero":false},"axis":null},"y":{"field":"ox","type":"quantitative","scale":{"domain":[-1.34821,1.34821],"nice":false,"zero":false},"axis":null},"x2":{"field":"ex"},"y2":{"field":"ey"}}},
   {"mark":{"type":"text","font":"DejaVu Sans","fontSize":13,"color":"#111"},"encoding":{"x":{"field":"tx","type":"quantitative","scale":{"domain":[-1.37054,1.37054],"nice":false,"zero":false},"axis":null},"y":{"field":"ty","type":"quantitative","scale":{"domain":[-1.34821,1.34821],"nice":false,"zero":false},"axis":null},"text":{"field":"a"}}}
  ]},
  {"data":{"name":"pts"},"transform":[{"filter":"datum.p=='pow-per'"},{"lookup":"p","from":{"data":{"name":"panels"},"key":"p","fields":["c","vmax"]}},{"lookup":"a","from":{"data":{"name":"axes"},"key":"a","fields":["k","n"]}},{"calculate":"log(1+datum.v/datum.c)/log(1+datum.vmax/datum.c)","as":"r"},{"calculate":"2*PI*datum.k/datum.n","as":"th"},{"calculate":"datum.r*cos(datum.th)","as":"x"},{"calculate":"datum.r*sin(datum.th)","as":"y"}],"encoding":{"x":{"field":"x","type":"quantitative","scale":{"domain":[-1.37054,1.37054],"nice":false,"zero":false},"axis":null},"y":{"field":"y","type":"quantitative","scale":{"domain":[-1.34821,1.34821],"nice":false,"zero":false},"axis":null}},"layer":[
   {"mark":{"type":"line","interpolate":"linear-closed","strokeWidth":1.2,"fillOpacity":0.2},"encoding":{"order":{"field":"k","type":"quantitative"},"stroke":{"field":"s","type":"nominal","scale":{"domain":["KV","I7K","AR","NO","I7H","I5K","I7R"],"range":["#c7c7c7","#c5b0d5","#1f77b4","#bcbd22","#2ca02c","#aec7e8","#9467bd"]},"legend":{"legendX":127.5,"legendY":4,"columns":2,"direction":"horizontal","symbolType":"stroke"}},"fill":{"field":"s","type":"nominal","scale":{"domain":["KV","I7K","AR","NO","I7H","I5K","I7R"],"range":["#c7c7c7","#c5b0d5","#1f77b4","#bcbd22","#2ca02c","#aec7e8","#9467bd"]},"legend":{"legendX":127.5,"legendY":4,"columns":2,"direction":"horizontal","symbolType":"stroke"}}}},
   {"mark":{"type":"point","shape":"circle","filled":true,"size":14,"opacity":1},"encoding":{"fill":{"field":"s","type":"nominal","scale":{"domain":["KV","I7K","AR","NO","I7H","I5K","I7R"],"range":["#c7c7c7","#c5b0d5","#1f77b4","#bcbd22","#2ca02c","#aec7e8","#9467bd"]},"legend":{"legendX":127.5,"legendY":4,"columns":2,"direction":"horizontal","symbolType":"stroke"}}}}
  ]},
  {"data":{"name":"rings"},"transform":[{"filter":"datum.p=='pow-per'"},{"lookup":"p","from":{"data":{"name":"panels"},"key":"p","fields":["c","vmax"]}},{"calculate":"log(1+datum.v/datum.c)/log(1+datum.vmax/datum.c)","as":"r"},{"calculate":"datum.r*cos(PI/8)","as":"lx"},{"calculate":"datum.r*sin(PI/8)","as":"ly"}],"mark":{"type":"text","align":"left","baseline":"bottom","font":"DejaVu Sans","fontSize":11.5,"color":"#222"},"encoding":{"x":{"field":"lx","type":"quantitative","scale":{"domain":[-1.37054,1.37054],"nice":false,"zero":false},"axis":null},"y":{"field":"ly","type":"quantitative","scale":{"domain":[-1.34821,1.34821],"nice":false,"zero":false},"axis":null},"text":{"field":"label"}}}
 ]},
 {"width":307,"height":302,"data":{"values":[{}]},"mark":{"type":"point","opacity":0},"encoding":{"x":{"datum":0,"type":"quantitative","scale":{"domain":[-1,1]},"axis":null},"y":{"datum":0,"type":"quantitative","scale":{"domain":[-1,1]},"axis":null}}},
 {"width":307,"height":302,"layer":[
  {"data":{"values":[{}]},"mark":{"type":"point","shape":"circle","size":50176,"filled":true,"fill":"#f9f9f9","stroke":"#808080","strokeWidth":1,"opacity":1},"encoding":{"x":{"datum":0,"type":"quantitative","scale":{"domain":[-1.37054,1.37054],"nice":false,"zero":false},"axis":null},"y":{"datum":0,"type":"quantitative","scale":{"domain":[-1.34821,1.34821],"nice":false,"zero":false},"axis":null}}},
  {"data":{"name":"rings"},"transform":[{"filter":"datum.p=='pow-con'"},{"lookup":"p","from":{"data":{"name":"panels"},"key":"p","fields":["c","vmax"]}},{"calculate":"log(1+datum.v/datum.c)/log(1+datum.vmax/datum.c)","as":"r"},{"calculate":"pow(224*datum.r,2)","as":"sz"},{"filter":"datum.r<0.99"}],"mark":{"type":"point","shape":"circle","filled":false,"stroke":"#d3d3d3","strokeWidth":0.8,"opacity":1},"encoding":{"x":{"datum":0,"type":"quantitative","scale":{"domain":[-1.37054,1.37054],"nice":false,"zero":false},"axis":null},"y":{"datum":0,"type":"quantitative","scale":{"domain":[-1.34821,1.34821],"nice":false,"zero":false},"axis":null},"size":{"field":"sz","type":"quantitative","scale":null}}},
  {"data":{"name":"axes"},"transform":[{"filter":"datum.g=='c'"},{"calculate":"2*PI*datum.k/datum.n","as":"th"},{"calculate":"0","as":"ox"},{"calculate":"cos(datum.th)","as":"ex"},{"calculate":"sin(datum.th)","as":"ey"},{"calculate":"1.185*cos(datum.th)","as":"tx"},{"calculate":"1.185*sin(datum.th)","as":"ty"}],"layer":[
   {"mark":{"type":"rule","stroke":"#cccccc","strokeWidth":0.8},"encoding":{"x":{"field":"ox","type":"quantitative","scale":{"domain":[-1.37054,1.37054],"nice":false,"zero":false},"axis":null},"y":{"field":"ox","type":"quantitative","scale":{"domain":[-1.34821,1.34821],"nice":false,"zero":false},"axis":null},"x2":{"field":"ex"},"y2":{"field":"ey"}}},
   {"mark":{"type":"text","font":"DejaVu Sans","fontSize":13,"color":"#111"},"encoding":{"x":{"field":"tx","type":"quantitative","scale":{"domain":[-1.37054,1.37054],"nice":false,"zero":false},"axis":null},"y":{"field":"ty","type":"quantitative","scale":{"domain":[-1.34821,1.34821],"nice":false,"zero":false},"axis":null},"text":{"field":"a"}}}
  ]},
  {"data":{"name":"pts"},"transform":[{"filter":"datum.p=='pow-con'"},{"lookup":"p","from":{"data":{"name":"panels"},"key":"p","fields":["c","vmax"]}},{"lookup":"a","from":{"data":{"name":"axes"},"key":"a","fields":["k","n"]}},{"calculate":"log(1+datum.v/datum.c)/log(1+datum.vmax/datum.c)","as":"r"},{"calculate":"2*PI*datum.k/datum.n","as":"th"},{"calculate":"datum.r*cos(datum.th)","as":"x"},{"calculate":"datum.r*sin(datum.th)","as":"y"}],"encoding":{"x":{"field":"x","type":"quantitative","scale":{"domain":[-1.37054,1.37054],"nice":false,"zero":false},"axis":null},"y":{"field":"y","type":"quantitative","scale":{"domain":[-1.34821,1.34821],"nice":false,"zero":false},"axis":null}},"layer":[
   {"mark":{"type":"line","interpolate":"linear-closed","strokeWidth":1.2,"fillOpacity":0.2},"encoding":{"order":{"field":"k","type":"quantitative"},"stroke":{"field":"s","type":"nominal","scale":{"domain":["I7H","I7K","NO","I5K"],"range":["#2ca02c","#c5b0d5","#bcbd22","#aec7e8"]},"legend":{"legendX":11.5,"legendY":4,"columns":2,"direction":"horizontal","symbolType":"stroke"}},"fill":{"field":"s","type":"nominal","scale":{"domain":["I7H","I7K","NO","I5K"],"range":["#2ca02c","#c5b0d5","#bcbd22","#aec7e8"]},"legend":{"legendX":11.5,"legendY":4,"columns":2,"direction":"horizontal","symbolType":"stroke"}}}},
   {"mark":{"type":"point","shape":"circle","filled":true,"size":14,"opacity":1},"encoding":{"fill":{"field":"s","type":"nominal","scale":{"domain":["I7H","I7K","NO","I5K"],"range":["#2ca02c","#c5b0d5","#bcbd22","#aec7e8"]},"legend":{"legendX":11.5,"legendY":4,"columns":2,"direction":"horizontal","symbolType":"stroke"}}}}
  ]},
  {"data":{"name":"rings"},"transform":[{"filter":"datum.p=='pow-con'"},{"lookup":"p","from":{"data":{"name":"panels"},"key":"p","fields":["c","vmax"]}},{"calculate":"log(1+datum.v/datum.c)/log(1+datum.vmax/datum.c)","as":"r"},{"calculate":"datum.r*cos(PI/8)","as":"lx"},{"calculate":"datum.r*sin(PI/8)","as":"ly"}],"mark":{"type":"text","align":"left","baseline":"bottom","font":"DejaVu Sans","fontSize":11.5,"color":"#222"},"encoding":{"x":{"field":"lx","type":"quantitative","scale":{"domain":[-1.37054,1.37054],"nice":false,"zero":false},"axis":null},"y":{"field":"ly","type":"quantitative","scale":{"domain":[-1.34821,1.34821],"nice":false,"zero":false},"axis":null},"text":{"field":"label"}}}
 ]},
 {"width":307,"height":302,"layer":[
  {"data":{"values":[{}]},"mark":{"type":"point","shape":"circle","size":50176,"filled":true,"fill":"#f9f9f9","stroke":"#808080","strokeWidth":1,"opacity":1},"encoding":{"x":{"datum":0,"type":"quantitative","scale":{"domain":[-1.37054,1.37054],"nice":false,"zero":false},"axis":null},"y":{"datum":0,"type":"quantitative","scale":{"domain":[-1.34821,1.34821],"nice":false,"zero":false},"axis":null}}},
  {"data":{"name":"rings"},"transform":[{"filter":"datum.p=='pow-man'"},{"lookup":"p","from":{"data":{"name":"panels"},"key":"p","fields":["c","vmax"]}},{"calculate":"log(1+datum.v/datum.c)/log(1+datum.vmax/datum.c)","as":"r"},{"calculate":"pow(224*datum.r,2)","as":"sz"},{"filter":"datum.r<0.99"}],"mark":{"type":"point","shape":"circle","filled":false,"stroke":"#d3d3d3","strokeWidth":0.8,"opacity":1},"encoding":{"x":{"datum":0,"type":"quantitative","scale":{"domain":[-1.37054,1.37054],"nice":false,"zero":false},"axis":null},"y":{"datum":0,"type":"quantitative","scale":{"domain":[-1.34821,1.34821],"nice":false,"zero":false},"axis":null},"size":{"field":"sz","type":"quantitative","scale":null}}},
  {"data":{"name":"axes"},"transform":[{"filter":"datum.g=='d'"},{"calculate":"2*PI*datum.k/datum.n","as":"th"},{"calculate":"0","as":"ox"},{"calculate":"cos(datum.th)","as":"ex"},{"calculate":"sin(datum.th)","as":"ey"},{"calculate":"1.185*cos(datum.th)","as":"tx"},{"calculate":"1.185*sin(datum.th)","as":"ty"}],"layer":[
   {"mark":{"type":"rule","stroke":"#cccccc","strokeWidth":0.8},"encoding":{"x":{"field":"ox","type":"quantitative","scale":{"domain":[-1.37054,1.37054],"nice":false,"zero":false},"axis":null},"y":{"field":"ox","type":"quantitative","scale":{"domain":[-1.34821,1.34821],"nice":false,"zero":false},"axis":null},"x2":{"field":"ex"},"y2":{"field":"ey"}}},
   {"mark":{"type":"text","font":"DejaVu Sans","fontSize":13,"color":"#111"},"encoding":{"x":{"field":"tx","type":"quantitative","scale":{"domain":[-1.37054,1.37054],"nice":false,"zero":false},"axis":null},"y":{"field":"ty","type":"quantitative","scale":{"domain":[-1.34821,1.34821],"nice":false,"zero":false},"axis":null},"text":{"field":"a"}}}
  ]},
  {"data":{"name":"pts"},"transform":[{"filter":"datum.p=='pow-man'"},{"lookup":"p","from":{"data":{"name":"panels"},"key":"p","fields":["c","vmax"]}},{"lookup":"a","from":{"data":{"name":"axes"},"key":"a","fields":["k","n"]}},{"calculate":"log(1+datum.v/datum.c)/log(1+datum.vmax/datum.c)","as":"r"},{"calculate":"2*PI*datum.k/datum.n","as":"th"},{"calculate":"datum.r*cos(datum.th)","as":"x"},{"calculate":"datum.r*sin(datum.th)","as":"y"}],"encoding":{"x":{"field":"x","type":"quantitative","scale":{"domain":[-1.37054,1.37054],"nice":false,"zero":false},"axis":null},"y":{"field":"y","type":"quantitative","scale":{"domain":[-1.34821,1.34821],"nice":false,"zero":false},"axis":null}},"layer":[
   {"mark":{"type":"line","interpolate":"linear-closed","strokeWidth":1.2,"fillOpacity":0.2},"encoding":{"order":{"field":"k","type":"quantitative"},"stroke":{"field":"s","type":"nominal","scale":{"domain":["I7H","I7K","I5K"],"range":["#2ca02c","#c5b0d5","#aec7e8"]},"legend":{"legendX":73.5,"legendY":5,"columns":1,"symbolType":"stroke"}},"fill":{"field":"s","type":"nominal","scale":{"domain":["I7H","I7K","I5K"],"range":["#2ca02c","#c5b0d5","#aec7e8"]},"legend":{"legendX":73.5,"legendY":5,"columns":1,"symbolType":"stroke"}}}},
   {"mark":{"type":"point","shape":"circle","filled":true,"size":14,"opacity":1},"encoding":{"fill":{"field":"s","type":"nominal","scale":{"domain":["I7H","I7K","I5K"],"range":["#2ca02c","#c5b0d5","#aec7e8"]},"legend":{"legendX":73.5,"legendY":5,"columns":1,"symbolType":"stroke"}}}}
  ]},
  {"data":{"name":"rings"},"transform":[{"filter":"datum.p=='pow-man'"},{"lookup":"p","from":{"data":{"name":"panels"},"key":"p","fields":["c","vmax"]}},{"calculate":"log(1+datum.v/datum.c)/log(1+datum.vmax/datum.c)","as":"r"},{"calculate":"datum.r*cos(PI/8)","as":"lx"},{"calculate":"datum.r*sin(PI/8)","as":"ly"}],"mark":{"type":"text","align":"left","baseline":"bottom","font":"DejaVu Sans","fontSize":11.5,"color":"#222"},"encoding":{"x":{"field":"lx","type":"quantitative","scale":{"domain":[-1.37054,1.37054],"nice":false,"zero":false},"axis":null},"y":{"field":"ly","type":"quantitative","scale":{"domain":[-1.34821,1.34821],"nice":false,"zero":false},"axis":null},"text":{"field":"label"}}}
 ]}
]},
{"width":1321,"height":427,"data":{"name":"hw"},
 "encoding":{"y":{"field":"key","type":"nominal","scale":{"type":"point","domain":["I5U","AR","I7K","I7H","I5K","I9K","s1","NN","QR","JX","NO","I7N","s2","KK","KV","s3","KR","NR","I7T","I5R","I7R"],"range":[48,418],"padding":0},"axis":null}},
 "layer":[
  {"data":{"values":[{}]},"mark":{"type":"rule","stroke":"#222","strokeWidth":1,"yOffset":-39},"encoding":{"y":{"datum":"I5U","type":"nominal"}}},
  {"data":{"name":"boxes"},"transform":[{"filter":"datum.g<4"}],"mark":{"type":"rect","filled":false,"stroke":"#aaaaaa","strokeWidth":1.5,"cornerRadius":8,"width":1321,"xOffset":648.5,"yOffset":-13,"y2Offset":14},"encoding":{"x":{"datum":"L","type":"nominal","scale":{"type":"point","domain":["L","R"],"range":[12,675],"padding":0},"axis":null},"y":{"field":"k1","type":"nominal"},"y2":{"field":"k2"}}},
  {"data":{"name":"boxes"},"transform":[{"filter":"datum.g==4"}],"mark":{"type":"rect","filled":false,"stroke":"#aaaaaa","strokeWidth":1.5,"cornerRadius":8,"width":1321,"xOffset":648.5,"yOffset":-13,"y2Offset":8},"encoding":{"x":{"datum":"L","type":"nominal","scale":{"type":"point","domain":["L","R"],"range":[12,675],"padding":0},"axis":null},"y":{"field":"k1","type":"nominal"},"y2":{"field":"k2"}}},
  {"mark":{"type":"rect","stroke":"#444","strokeWidth":0.8,"width":28,"height":14,"xOffset":14},"encoding":{"x":{"datum":"L","type":"nominal","scale":{"type":"point","domain":["L","R"],"range":[12,675],"padding":0},"axis":null},"fill":{"field":"key","type":"nominal","scale":{"domain":["I5U","AR","I7K","I7H","I5K","I9K","NN","QR","JX","NO","I7N","KK","KV","KR","NR","I7T","I5R","I7R"],"range":["#ffbb78","#1f77b4","#c5b0d5","#2ca02c","#aec7e8","#8c564b","#9edae5","#3e8de6","#c49c94","#bcbd22","#d62728","#f7b6d2","#c7c7c7","#7f7f7f","#17becf","#98df8a","#ff7f0e","#9467bd"]},"legend":null}}},
  {"mark":{"type":"rect","stroke":"#444","strokeWidth":0.8,"fillOpacity":0.25,"width":28,"height":14,"xOffset":14},"encoding":{"x":{"datum":"R","type":"nominal","scale":{"type":"point","domain":["L","R"],"range":[12,675],"padding":0},"axis":null},"fill":{"field":"key","type":"nominal","scale":{"domain":["I5U","AR","I7K","I7H","I5K","I9K","NN","QR","JX","NO","I7N","KK","KV","KR","NR","I7T","I5R","I7R"],"range":["#ffbb78","#1f77b4","#c5b0d5","#2ca02c","#aec7e8","#8c564b","#9edae5","#3e8de6","#c49c94","#bcbd22","#d62728","#f7b6d2","#c7c7c7","#7f7f7f","#17becf","#98df8a","#ff7f0e","#9467bd"]},"legend":null}}},
  {"mark":{"type":"point","shape":"circle","filled":true,"size":28,"color":"#000","opacity":1,"xOffset":37},"encoding":{"x":{"datum":"L","type":"nominal","scale":{"type":"point","domain":["L","R"],"range":[12,675],"padding":0},"axis":null}}},
  {"mark":{"type":"point","shape":"circle","filled":false,"size":24,"stroke":"#000","strokeWidth":0.8,"opacity":1,"xOffset":37},"encoding":{"x":{"datum":"R","type":"nominal","scale":{"type":"point","domain":["L","R"],"range":[12,675],"padding":0},"axis":null}}},
  {"mark":{"type":"text","align":"left","baseline":"middle","font":"Liberation Sans","fontSize":15.35,"color":"#111","dx":44},"encoding":{"x":{"datum":"L","type":"nominal","scale":{"type":"point","domain":["L","R"],"range":[12,675],"padding":0},"axis":null},"text":{"field":"code"}}},
  {"mark":{"type":"text","align":"left","baseline":"middle","font":"Liberation Sans","fontSize":15.35,"color":"#111","dx":79},"encoding":{"x":{"datum":"L","type":"nominal","scale":{"type":"point","domain":["L","R"],"range":[12,675],"padding":0},"axis":null},"text":{"field":"watt"}}},
  {"mark":{"type":"text","align":"left","baseline":"middle","font":"Liberation Sans","fontSize":15.35,"color":"#111","dx":129},"encoding":{"x":{"datum":"L","type":"nominal","scale":{"type":"point","domain":["L","R"],"range":[12,675],"padding":0},"axis":null},"text":{"field":"name"}}},
  {"mark":{"type":"text","align":"left","baseline":"middle","font":"Liberation Sans","fontSize":15.35,"color":"#111","dx":44},"encoding":{"x":{"datum":"R","type":"nominal","scale":{"type":"point","domain":["L","R"],"range":[12,675],"padding":0},"axis":null},"text":{"field":"code"}}},
  {"mark":{"type":"text","align":"left","baseline":"middle","font":"Liberation Sans","fontSize":15.35,"color":"#111","dx":79},"encoding":{"x":{"datum":"R","type":"nominal","scale":{"type":"point","domain":["L","R"],"range":[12,675],"padding":0},"axis":null},"text":{"field":"watt"}}},
  {"mark":{"type":"text","align":"left","baseline":"middle","font":"Liberation Sans","fontSize":15.35,"color":"#111","dx":130},"encoding":{"x":{"datum":"R","type":"nominal","scale":{"type":"point","domain":["L","R"],"range":[12,675],"padding":0},"axis":null},"text":{"field":"name"}}},
  {"data":{"name":"groups"},"mark":{"type":"text","align":"right","baseline":"top","font":"Liberation Sans","fontSize":17,"fontWeight":"bold","color":"#111","lineHeight":21,"dx":636,"dy":-6.5},"encoding":{"x":{"datum":"R","type":"nominal","scale":{"type":"point","domain":["L","R"],"range":[12,675],"padding":0},"axis":null},"y":{"field":"k","type":"nominal"},"text":{"field":"t"}}}
 ]}
]
}
